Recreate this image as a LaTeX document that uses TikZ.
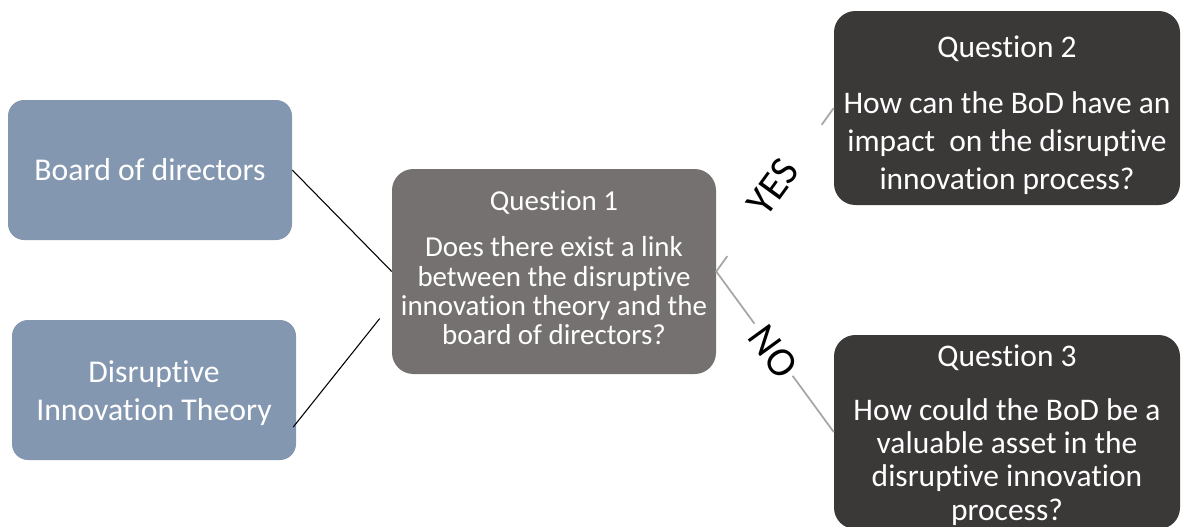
\documentclass[tikz,border=0pt]{standalone}
\usepackage{fontspec}
\setmainfont{Carlito}[Ligatures=NoCommon]
\usetikzlibrary{calc}
\definecolor{inputblue}{HTML}{8497B0}
\definecolor{qmid}{HTML}{767171}
\definecolor{qdark}{HTML}{3B3838}
\definecolor{branchgray}{HTML}{A6A6A6}
\tikzset{
  inputbox/.style={rectangle, rounded corners=12pt, fill=inputblue, text=white,
    minimum width=284*0.75pt, minimum height=140*0.75pt, inner sep=0pt, align=center,
    font=\fontsize{23.8}{28.5}\selectfont},
  qbox/.style={rectangle, rounded corners=16pt, text=white, inner sep=0pt, align=center},
  link/.style={draw=black, line width=0.8pt},
  branch/.style={draw=branchgray, line width=1.3pt},
  answer/.style={text=black, inner sep=0pt, font=\fontsize{31}{34}\selectfont}
}
\begin{document}
\begin{tikzpicture}[x=0.75pt,y=-0.75pt]
  \useasboundingbox (0,0) rectangle (1192,526);
  \clip (0,0) rectangle (1192,526);

  % inputs
  \node[inputbox] (bod) at (150,170) {Board of directors};
  \node[inputbox] (dit) at (154,390) {\rule{0pt}{21pt}Disruptive\\Innovation Theory};

  % central question
  \node[qbox, fill=qmid, minimum width=324*0.75pt, minimum height=205*0.75pt,
        font=\fontsize{21.7}{22}\selectfont] (q1) at (554,271.5)
    {Question 1\\[13pt]Does there exist a link\\between the disruptive\\innovation theory and the\\board of directors?\rule[-6pt]{0pt}{6pt}};

  % follow-up questions
  \node[qbox, fill=qdark, minimum width=346*0.75pt, minimum height=194*0.75pt,
        font=\fontsize{23.6}{28.5}\selectfont] (q2) at (1007,108)
    {\rule{0pt}{27pt}Question 2\\[13pt]How can the BoD have an\\impact\ \ on the disruptive\\innovation process?};
  \node[qbox, fill=qdark, minimum width=346*0.75pt, minimum height=194*0.75pt,
        font=\fontsize{23.6}{25}\selectfont] (q3) at (1007,432)
    {\rule{0pt}{21pt}Question 3\\[15pt]How could the BoD be a\\valuable asset in the\\disruptive innovation\\process?};

  % inputs feeding question 1
  \draw[link] (bod.east) -- (q1.west);
  \draw[link] ($(dit.east)+(-3,37)$) -- ($(q1.west)+(-12,47)$);

  % yes / no branches
  \draw[branch] ($(q1.east)!0.094!(q2.west)$) -- (q1.east) -- ($(q1.east)!0.325!(q3.west)$);
  \draw[branch] ($(q1.east)!0.897!(q2.west)$) -- (q2.west);
  \draw[branch] ($(q1.east)!0.65!(q3.west)$) -- (q3.west);

  \node[answer, rotate=54] (yes) at (773,187) {YES};
  \node[answer, rotate=-54] (no) at (773,352) {NO};
\end{tikzpicture}
\end{document}
